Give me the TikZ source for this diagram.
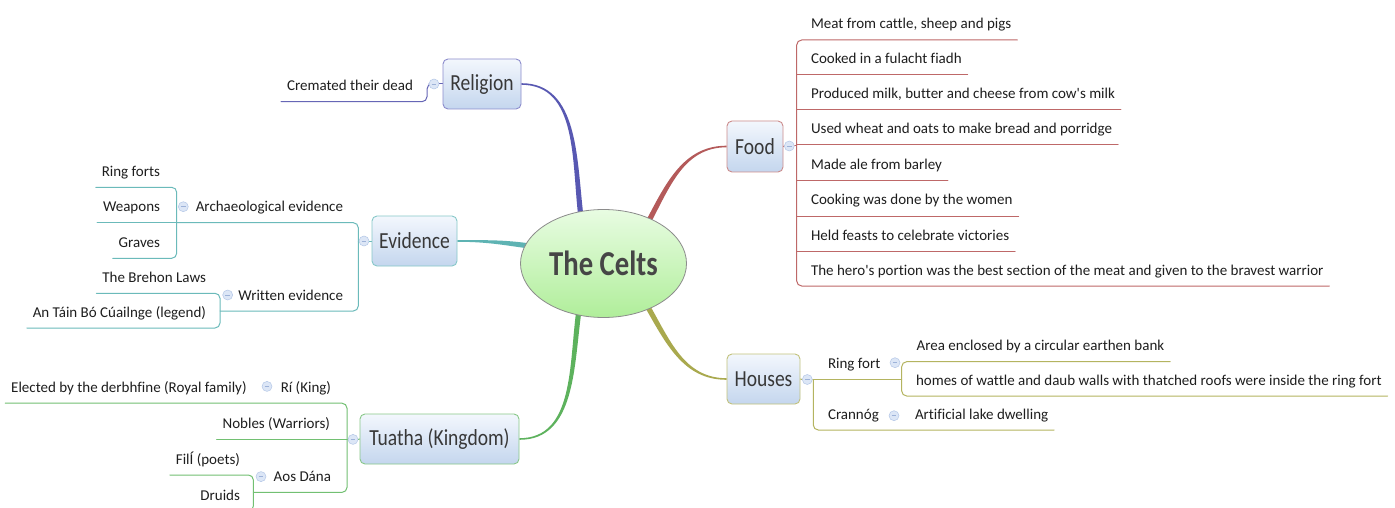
\documentclass[tikz,border=0pt]{standalone}
\usepackage{fontspec}
\setmainfont{Carlito}[Ligatures={TeXOff,CommonOff}]
\newfontfamily\mmBranchFamily{Carlito}[FakeStretch=0.85]
\newfontfamily\mmTitleFamily{Carlito}[FakeStretch=0.82]
\usetikzlibrary{shapes.geometric,calc}

\newcommand\mmLeaf{\fontsize{15pt}{18pt}\selectfont}
\newcommand\mmBranch{\mmBranchFamily\fontsize{23pt}{27pt}\selectfont}
\newcommand\mmTitle{\mmTitleFamily\bfseries\fontsize{35pt}{40pt}\selectfont}

% colours
\definecolor{leafc}{HTML}{1E1E1E}
\definecolor{branchc}{HTML}{383838}
\definecolor{titlec}{HTML}{464646}
\definecolor{boxtop}{HTML}{F3F7FD}
\definecolor{boxbot}{HTML}{C4D6EE}
\definecolor{celtop}{HTML}{E8FCE2}
\definecolor{celbot}{HTML}{B0EE9A}
\definecolor{celdraw}{HTML}{8C8C8C}
\definecolor{togfill}{HTML}{DCE6F6}
\definecolor{togdraw}{HTML}{B4C7E7}
\definecolor{togminus}{HTML}{9DB2D8}
\definecolor{relt}{HTML}{5858B2}
\definecolor{rell}{HTML}{6666B6}
\definecolor{relb}{HTML}{8C8CCC}
\definecolor{fdt}{HTML}{B45A5A}
\definecolor{fdl}{HTML}{BE6868}
\definecolor{fdb}{HTML}{CC8C8C}
\definecolor{evt}{HTML}{5EB3B3}
\definecolor{evl}{HTML}{6BBABA}
\definecolor{evb}{HTML}{86C8C8}
\definecolor{tut}{HTML}{5DB25D}
\definecolor{tul}{HTML}{72C072}
\definecolor{tub}{HTML}{88C888}
\definecolor{hot}{HTML}{A9A94E}
\definecolor{hol}{HTML}{B4B460}
\definecolor{hob}{HTML}{C2C27C}

\pgfdeclarelayer{back}
\pgfdeclarelayer{lines}
\pgfsetlayers{back,lines,main}

% tapered branch from the central ellipse to a topic box
% #1 colour, #2 ellipse border angle, #3 leaving angle, #4 box anchor, #5 arriving angle
\newcommand\mmTrunk[5]{%
  \fill[#1] ($(celts.#2)+(#3+180:6)+(#3+90:2.6)$) to[out=#3,in=#5]
    ($(#4)+(#5-90:0.8)$) -- ($(#4)+(#5+90:0.8)$) to[out=#5,in=#3]
    ($(celts.#2)+(#3+180:6)+(#3-90:2.6)$) -- cycle;}

\begin{document}
\begin{tikzpicture}[x=1pt,y=1pt,
  central/.style={ellipse, minimum width=166pt, minimum height=108pt, inner sep=0pt,
    top color=celtop, bottom color=celbot, draw=celdraw, line width=0.8pt,
    font=\mmTitle, text=titlec},
  topic/.style={rounded corners=5pt, minimum height=50pt, inner sep=0pt,
    top color=boxtop, bottom color=boxbot, line width=0.9pt,
    font=\mmBranch, text=branchc},
  tog/.style={circle, minimum size=10pt, inner sep=0pt, fill=togfill, draw=togdraw,
    line width=0.5pt,
    path picture={\draw[togminus, line width=0.8pt]
      ($(path picture bounding box.center)+(-2.4,0)$) -- ++(4.8,0);}},
  leaf/.style={font=\mmLeaf, text=leafc, text height=11pt, text depth=0pt,
    inner xsep=6pt, inner ysep=11pt, outer sep=0pt},
  leafL/.style={leaf, anchor=south east},
  leafR/.style={leaf, anchor=south west},
  tie/.style={line width=1pt, line cap=round},
  elbow/.style={tie, rounded corners=5pt}]

\useasboundingbox (0,0) rectangle (1395,507);
\begin{pgfonlayer}{back}
  \fill[white] (0,0) rectangle (1395,507);
\end{pgfonlayer}

% central topic and main topics
\node[central] (celts) at (603.5,243.5) {The Celts};
\node[topic, draw=relb, minimum width=78pt] (rel) at (482,423) {Religion};
\node[topic, draw=evb, minimum width=85pt] (ev) at (414.5,266) {Evidence};
\node[topic, draw=tub, minimum width=159pt] (tua) at (439.5,68) {Tuatha (Kingdom)};
\node[topic, draw=fdb, minimum width=56pt, minimum height=51pt] (food) at (755,360.5) {Food};
\node[topic, draw=hob, minimum width=73pt] (hou) at (763.5,128) {Houses};

% collapse toggles
\node[tog] (relc) at (434,423) {};
\node[tog] (evc) at (364,266) {};
\node[tog] (archc) at (183.3,300.3) {};
\node[tog] (wrc) at (227.7,212) {};
\node[tog] (tuc) at (353,67.6) {};
\node[tog] (ric) at (267,120.6) {};
\node[tog] (aoc) at (261,30.4) {};
\node[tog] (fdc) at (789.3,361) {};
\node[tog] (hoc) at (807.3,127.5) {};
\node[tog] (rfc) at (895,144.3) {};
\node[tog] (crc) at (894,91.3) {};

% bracket columns
\coordinate (relx) at (427,0);
\coordinate (evx) at (358.3,0);
\coordinate (arx) at (176.7,0);
\coordinate (wrx) at (220,0);
\coordinate (tux) at (347,0);
\coordinate (aox) at (253.4,0);
\coordinate (fdx) at (796.7,0);
\coordinate (hox) at (813.3,0);
\coordinate (rfx) at (901.7,0);

% Religion
\node[leafL] (cre) at (419,405.3) {Cremated their dead};

% Evidence
\node[leafL] (arch) at (349,284.3) {Archaeological evidence};
\node[leafL] (ring) at (166,319.7) {Ring forts};
\node[leafL] (weap) at (166,284.3) {Weapons};
\node[leafL] (grav) at (166,248.7) {Graves};
\node[leafL] (writ) at (349,196) {Written evidence};
\node[leafL] (breh) at (212,213.7) {The Brehon Laws};
\node[leafL] (tain) at (212,179) {An Táin Bó Cúailnge (legend)};

% Tuatha
\node[leafL] (ri) at (337,103.8) {Rí (King)};
\node[leafL] (elec) at (252.6,103.8) {Elected by the derbhfine (Royal family)};
\node[leafL] (nob) at (336,67.6) {Nobles (Warriors)};
\node[leafL] (aos) at (337,14.6) {Aos Dána};
\node[leafL] (fili) at (246,32) {FilÍ (poets)};
\node[leafL] (drui) at (246,-4) {Druids};

% Food
\node[leafR] (f1) at (805,467) {Meat from cattle, sheep and pigs};
\node[leafR] (f2) at (805,432) {Cooked in a fulacht fiadh};
\node[leafR] (f3) at (805,397) {Produced milk, butter and cheese from cow's milk};
\node[leafR] (f4) at (805,362) {Used wheat and oats to make bread and porridge};
\node[leafR] (f5) at (805,326.5) {Made ale from barley};
\node[leafR] (f6) at (805,291) {Cooking was done by the women};
\node[leafR] (f7) at (805,256) {Held feasts to celebrate victories};
\node[leafR] (f8) at (805,221) {The hero's portion was the best section of the meat and given to the bravest warrior};

% Houses
\node[leafR] (rf) at (822,127.5) {Ring fort};
\node[leafR] (area) at (910.7,145.3) {Area enclosed by a circular earthen bank};
\node[leafR] (homes) at (910,111) {homes of wattle and daub walls with thatched roofs were inside the ring fort};
\node[leafR] (cran) at (822,77) {Crannóg};
\node[leafR] (art) at (909,77) {Artificial lake dwelling};

\begin{pgfonlayer}{lines}
  % main branches
  \mmTrunk{relt}{114}{97}{rel.east}{0}
  \mmTrunk{fdt}{44}{62}{food.west}{180}
  \mmTrunk{evt}{167}{172}{ev.east}{0}
  \mmTrunk{tut}{244}{262}{tua.east}{0}
  \mmTrunk{hot}{315}{300}{hou.west}{180}

  % Religion
  \draw[tie, rell] (relc.east) -- (rel.west);
  \draw[elbow, rell] (relc.west) -- (relc -| relx) -- (cre.south -| relx) -- (cre.south west);

  % Evidence
  \draw[tie, evl] (ev.west) -- (evc.east);
  \draw[tie, evl] (evc.west) -- (evc -| evx);
  \draw[elbow, evl] (arch.south -| arx) -- (arch.south -| evx) -- (writ.south -| evx) -- (writ.south -| wrx);
  \draw[elbow, evl] (ring.south west) -- (ring.south -| arx) -- (grav.south -| arx) -- (grav.south west);
  \draw[tie, evl] (weap.south west) -- (weap.south -| arx);
  \draw[elbow, evl] (breh.south west) -- (breh.south -| wrx) -- (tain.south -| wrx) -- (tain.south west);

  % Tuatha
  \draw[tie, tul] (tua.west) -- (tuc.east);
  \draw[tie, tul] (tuc.west) -- (tuc -| tux);
  \draw[elbow, tul] (elec.south west) -- (ri.south -| tux) -- (aos.south -| tux) -- (aos.south -| aox);
  \draw[tie, tul] (nob.south -| tux) -- (nob.south west);
  \draw[elbow, tul] (fili.south west) -- (fili.south -| aox) -- (drui.south -| aox) -- (drui.south west);

  % Food
  \draw[tie, fdl] (food.east) -- (fdc.west);
  \draw[tie, fdl] (fdc.east) -- (fdc -| fdx);
  \draw[elbow, fdl] (f1.south east) -- (f1.south -| fdx) -- (f8.south -| fdx) -- (f8.south east);
  \foreach \k in {2,...,7} \draw[tie, fdl] (f\k.south -| fdx) -- (f\k.south east);

  % Houses
  \draw[tie, hol] (hou.east) -- (hoc.west);
  \draw[tie, hol] (hoc.east) -- (rf.south -| rfx);
  \draw[elbow, hol] (rf.south -| hox) -- (cran.south -| hox) -- (art.south east);
  \draw[elbow, hol] (area.south east) -- (area.south -| rfx) -- (homes.south -| rfx) -- (homes.south east);
\end{pgfonlayer}
\end{tikzpicture}
\end{document}
